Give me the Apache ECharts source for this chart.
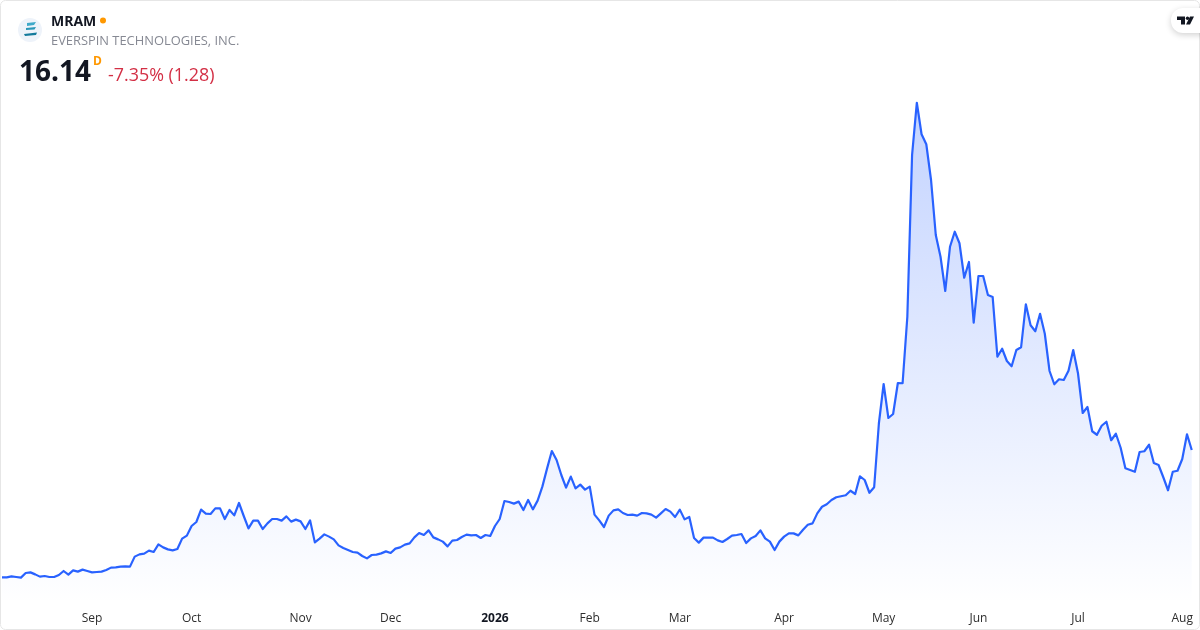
<!DOCTYPE html>
<html>
<head>
<meta charset="utf-8">
<style>html,body{margin:0;padding:0;background:#fff}#c{width:1200px;height:630px}</style>
<script src="https://cdn.jsdelivr.net/npm/echarts@6/dist/echarts.min.js"></script>
</head>
<body>
<div id="c"></div>
<script>
const prices = [
5.95,5.95,6.03,5.98,5.93,6.30,6.35,6.19,6.01,6.06,5.98,5.98,6.14,6.46,6.17,6.51,6.41,6.57,6.46,6.35,
6.38,6.41,6.54,6.73,6.75,6.81,6.83,6.81,7.61,7.79,7.85,8.09,7.98,8.59,8.35,8.19,8.11,8.22,9.05,9.29,
10.06,10.38,11.37,11.05,11.02,11.47,11.47,10.62,11.34,10.91,11.90,10.86,9.87,10.49,10.49,9.82,10.27,10.62,10.62,10.49,
10.83,10.41,10.57,10.43,9.82,10.51,8.75,9.05,9.39,9.21,8.99,8.51,8.30,8.14,7.98,7.93,7.66,7.47,7.74,7.77,
7.87,8.03,7.90,8.25,
8.35,8.57,8.67,9.15,9.50,9.34,9.71,9.15,8.99,8.81,8.43,8.89,8.94,9.18,9.37,9.31,9.34,9.10,9.34,9.26,
10.06,10.62,12.06,11.98,11.85,12.01,11.34,12.14,11.39,12.09,13.21,14.67,16.06,15.34,14.14,13.13,14.01,13.07,13.37,12.97,
13.21,10.97,10.51,9.98,10.89,11.31,11.39,11.10,10.94,10.97,10.89,11.10,11.07,10.97,10.73,11.07,11.42,11.21,10.78,11.37,
10.59,10.78,9.10,8.73,9.13,9.13,9.13,8.91,8.78,9.02,9.29,9.34,9.42,8.70,9.07,9.26,9.71,9.07,8.81,8.14,
8.81,9.21,9.47,9.47,9.31,9.76,10.16,10.27,11.07,
11.60,11.80,12.14,12.36,12.44,12.52,12.88,12.62,14.04,13.74,12.72,13.16,18.28,21.42,18.70,19.02,21.50,21.48,26.80,39.74,
43.92,41.40,40.60,37.74,33.34,31.60,28.86,32.40,33.60,32.68,29.92,31.18,26.32,30.06,30.06,28.54,28.38,23.60,24.24,23.26,
22.84,24.14,24.36,27.80,26.12,25.64,27.04,25.44,22.46,21.40,21.80,21.74,22.48,24.14,22.28,19.10,19.58,17.64,17.36,18.08,
18.40,16.92,17.44,16.32,14.68,14.54,14.40,15.98,16.04,16.56,15.10,14.94,13.96,12.92,14.40,14.48,15.42,17.40,16.14
];
const tickIndexes = [19,40,63,82,104,124,143,165,186,206,227,249];
const tickLabels = ['Sep','Oct','Nov','Dec','2026','Feb','Mar','Apr','May','Jun','Jul','Aug'];
const symbol = 'MRAM';
const company = 'EVERSPIN TECHNOLOGIES, INC.';
const lastPrice = '16.14';
const change = '-7.35% (1.28)';

const categories = prices.map((_, i) => {
  const k = tickIndexes.indexOf(i);
  return k >= 0 ? tickLabels[k] : String(i);
});
const font = '"Open Sans","Noto Sans",sans-serif';
const chart = echarts.init(document.getElementById('c'));
chart.setOption({
  animation: false,
  backgroundColor: '#fff',
  grid: { left: 2, right: 8.26, top: 100, bottom: 30 },
  xAxis: {
    type: 'category', data: categories, boundaryGap: false,
    axisLine: { show: false }, axisTick: { show: false }, splitLine: { show: false },
    axisLabel: {
      interval: (i) => tickIndexes.includes(i),
      margin: 13, fontFamily: font, fontSize: 12, color: '#2e2e2e',
      hideOverlap: false,
      formatter: (v) => v === '2026' ? '{b|2026}' : v,
      rich: { b: { fontFamily: font, fontSize: 12, fontWeight: 'bold', color: '#131722' } }
    }
  },
  yAxis: { type: 'value', min: 4.14, max: 44.14, show: false, splitLine: { show: false } },
  series: [{
    type: 'line', data: prices, symbol: 'none', smooth: false,
    lineStyle: { color: '#2962FF', width: 2.2, join: 'round' },
    areaStyle: { origin: 'start', opacity: 1, color: new echarts.graphic.LinearGradient(0, 103, 0, 605, [
      { offset: 0, color: 'rgba(41,98,255,0.28)' },
      { offset: 1, color: 'rgba(41,98,255,0)' }
    ], true) }
  }],
  graphic: [
    { type: 'rect', silent: true, z: 1, shape: { x: 0.5, y: 0.5, width: 1199, height: 629, r: 5 },
      style: { fill: 'none', stroke: '#e6e6e6', lineWidth: 1 } },
    { type: 'circle', z: 5, shape: { cx: 30, cy: 30, r: 12 }, style: { fill: '#eef3fa' } },
    { type: 'polygon', z: 6, shape: { points: [[27,23],[36,22],[34,25],[27,26]] }, style: { fill: '#3fa9c9' } },
    { type: 'polygon', z: 6, shape: { points: [[26,28],[36,27],[34.5,29.5],[26,30]] }, style: { fill: '#2a97b8' } },
    { type: 'polygon', z: 6, shape: { points: [[24,34],[37,32.5],[36,35],[25,36]] }, style: { fill: '#137a9c' } },
    { type: 'text', z: 6, style: { x: 51, y: 22, text: symbol, font: 'bold 14px ' + font, fill: '#131722', textVerticalAlign: 'middle' } },
    { type: 'circle', z: 6, shape: { cx: 103, cy: 20.5, r: 3 }, style: { fill: '#FF9800' } },
    { type: 'text', z: 6, x: 51, y: 42, scaleX: 1.073, style: { x: 0, y: 0, text: company, font: '12px ' + font, fill: '#868993', textVerticalAlign: 'middle' } },
    { type: 'text', z: 6, style: { x: 19, y: 73.5, text: lastPrice, font: 'bold 28px ' + font, fill: '#131722', textVerticalAlign: 'middle' } },
    { type: 'text', z: 6, style: { x: 93, y: 62, text: 'D', font: 'bold 12px ' + font, fill: '#FF9800', textVerticalAlign: 'middle' } },
    { type: 'text', z: 6, style: { x: 108, y: 75.5, text: change, font: '17.9px ' + font, fill: '#D32F45', textVerticalAlign: 'middle' } },
    { type: 'rect', z: 7, shape: { x: 1171, y: 8, width: 50, height: 25, r: 12 },
      style: { fill: '#fff', shadowBlur: 6, shadowColor: 'rgba(0,0,0,0.18)', shadowOffsetY: 2 } },
    { type: 'polygon', z: 8, shape: { points: [[1177,16.5],[1185,16.5],[1185,24.5],[1181,24.5],[1181,20],[1177,20]] }, style: { fill: '#131722' } },
    { type: 'polygon', z: 8, shape: { points: [[1190,16.5],[1194,16.5],[1190,24.5],[1186,24.5]] }, style: { fill: '#131722' } },
    { type: 'circle', z: 8, shape: { cx: 1187.5, cy: 18.3, r: 1.7 }, style: { fill: '#131722' } }
  ]
});
</script>
</body>
</html>
